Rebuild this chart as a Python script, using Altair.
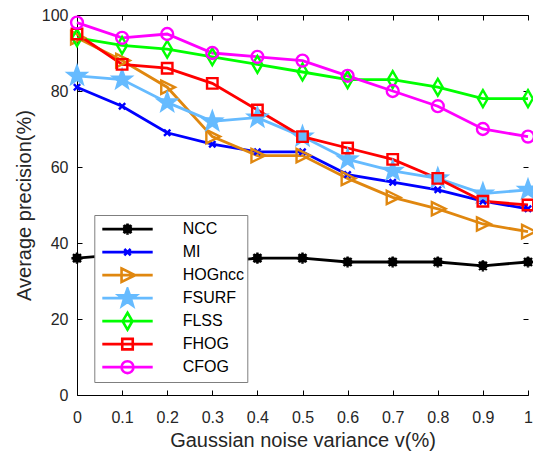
import math
import altair as alt
import pandas as pd

# ---------------- data ----------------
x_values = [0.0, 0.1, 0.2, 0.3, 0.4, 0.5, 0.6, 0.7, 0.8, 0.9, 1.0]
methods = ["NCC", "MI", "HOGncc", "FSURF", "FLSS", "FHOG", "CFOG"]
ncc = [36, 37, 36, 35, 36, 36, 35, 35, 35, 34, 35]
mi = [81, 76, 69, 66, 64, 64, 58, 56, 54, 51, 49]
hogncc = [94, 88, 81, 68, 63, 63, 57, 52, 49, 45, 43]
fsurf = [84, 83, 77, 72, 73, 68, 62, 59, 57, 53, 54]
flss = [94, 92, 91, 89, 87, 85, 83, 83, 81, 78, 78]
fhog = [95, 87, 86, 82, 75, 68, 65, 62, 57, 51, 50]
cfog = [98, 94, 95, 90, 89, 88, 84, 80, 76, 70, 68]
series = [ncc, mi, hogncc, fsurf, flss, fhog, cfog]
x_ticks = [0, 0.1, 0.2, 0.3, 0.4, 0.5, 0.6, 0.7, 0.8, 0.9, 1]
y_ticks = [0, 20, 40, 60, 80, 100]

rows = []
for m, vals in zip(methods, series):
    for xv, v in zip(x_values, vals):
        rows.append({"x": xv, "value": v, "method": m})
df = pd.DataFrame(rows)

# ---------------- styles ----------------
stroke_colors = ["#000000", "#0000FF", "#E0870F", "#66BBFF", "#00FF00", "#FF0000", "#FF00FF"]
fill_colors = ["#000000", "#0000FF", "transparent", "#66BBFF", "transparent", "transparent", "transparent"]


def star_path(R, r):
    pts = []
    for i in range(10):
        a = math.radians(-90 + 36 * i)
        rad = R if i % 2 == 0 else r
        pts.append(f"{rad * math.cos(a):.3f},{rad * math.sin(a):.3f}")
    return "M" + "L".join(pts) + "Z"


marker_paths = [
    "M-0.5,0A0.5,0.5,0,1,0,0.5,0A0.5,0.5,0,1,0,-0.5,0Z"
    "M-0.8,0H0.8M0,-0.8V0.8M-0.57,-0.57L0.57,0.57M-0.57,0.57L0.57,-0.57",
    "M-0.45,-0.45L0.45,0.45M-0.45,0.45L0.45,-0.45",
    "M-0.85,-0.95L1.1,0L-0.85,0.95Z",
    star_path(1.35, 0.55),
    "M0,-1.2L0.7,0L0,1.2L-0.7,0Z",
    "M-0.75,-0.75H0.75V0.75H-0.75Z",
    "M-0.85,0A0.85,0.85,0,1,0,0.85,0A0.85,0.85,0,1,0,-0.85,0Z",
]
legend_paths = ["M-3.6,0H3.6" + p for p in marker_paths]

FONT = "Liberation Sans"
TXT = "#262626"
neg_tick = alt.ExprRef(expr="-5")

x_scale = alt.Scale(domain=[0, 1], nice=False, zero=False)
y_scale = alt.Scale(domain=[0, 100], nice=False)

stroke_scale = alt.Scale(domain=methods, range=stroke_colors)
fill_scale = alt.Scale(domain=methods, range=fill_colors)

base = alt.Chart(df)

lines = base.mark_line(strokeWidth=2.8).encode(
    x=alt.X("x:Q", scale=x_scale, axis=alt.Axis(
        orient="bottom", values=x_ticks, format="~g", tickSize=neg_tick,
        labelPadding=19, labelFlush=False, labelOverlap=False,
        title="Gaussian noise variance v(%)", titlePadding=5.5)),
    y=alt.Y("value:Q", scale=y_scale, axis=alt.Axis(
        orient="left", values=y_ticks, tickSize=neg_tick, labelPadding=14,
        labelFlush=False, labelOverlap=False,
        title="Average precision(%)", titlePadding=7)),
    stroke=alt.Stroke("method:N", scale=stroke_scale, legend=None),
)

points = base.mark_point(size=196, strokeWidth=2.4, opacity=1).encode(
    x=alt.X("x:Q", scale=x_scale, axis=alt.Axis(
        orient="top", values=x_ticks, tickSize=neg_tick, labels=False, title=None)),
    y=alt.Y("value:Q", scale=y_scale, axis=alt.Axis(
        orient="right", values=y_ticks, tickSize=neg_tick, labels=False, title=None,
        domain=False)),
    stroke=alt.Stroke("method:N", scale=stroke_scale, legend=None),
    fill=alt.Fill("method:N", scale=fill_scale, legend=None),
    shape=alt.Shape("method:N", scale=alt.Scale(domain=methods, range=marker_paths), legend=None),
)

leg = alt.Legend(title=None, labelExpr="datum.label + '  '")
legend_layer = base.mark_point(size=196, opacity=0).encode(
    x=alt.X("x:Q", scale=x_scale, axis=None),
    y=alt.Y("value:Q", scale=y_scale, axis=None),
    stroke=alt.Stroke("method:N", scale=stroke_scale, legend=leg),
    fill=alt.Fill("method:N", scale=fill_scale, legend=leg),
    shape=alt.Shape("method:N", scale=alt.Scale(domain=methods, range=legend_paths), legend=leg),
)

chart = (
    alt.layer(lines, points, legend_layer)
    .resolve_scale(shape="independent", stroke="independent", fill="independent")
    .resolve_axis(x="independent", y="independent")
    .properties(
        width=451, height=380,
        autosize=alt.AutoSizeParams(type="none"),
        padding={"left": 69, "top": 7, "right": 5, "bottom": 57},
        background="white",
    )
    .configure_view(stroke=None)
    .configure_axis(
        domainColor="black", domainWidth=1, tickColor="black", tickWidth=1,
        grid=False, labelFont=FONT, labelFontSize=16, labelColor=TXT,
        titleFont=FONT, titleFontSize=20, titleFontWeight="normal", titleColor=TXT,
    )
    .configure_legend(
        orient="none", legendX=17.3, legendY=200, padding=3,
        strokeColor="#7F7F7F", fillColor="white",
        clipHeight=22.3, rowPadding=0, symbolSize=196, symbolStrokeWidth=2.6,
        symbolOffset=21.7, labelOffset=46.7, symbolOpacity=1,
        labelFont=FONT, labelFontSize=16, labelColor="black",
    )
)

chart.save("out.html", embed_options={"renderer": "svg", "actions": False})
